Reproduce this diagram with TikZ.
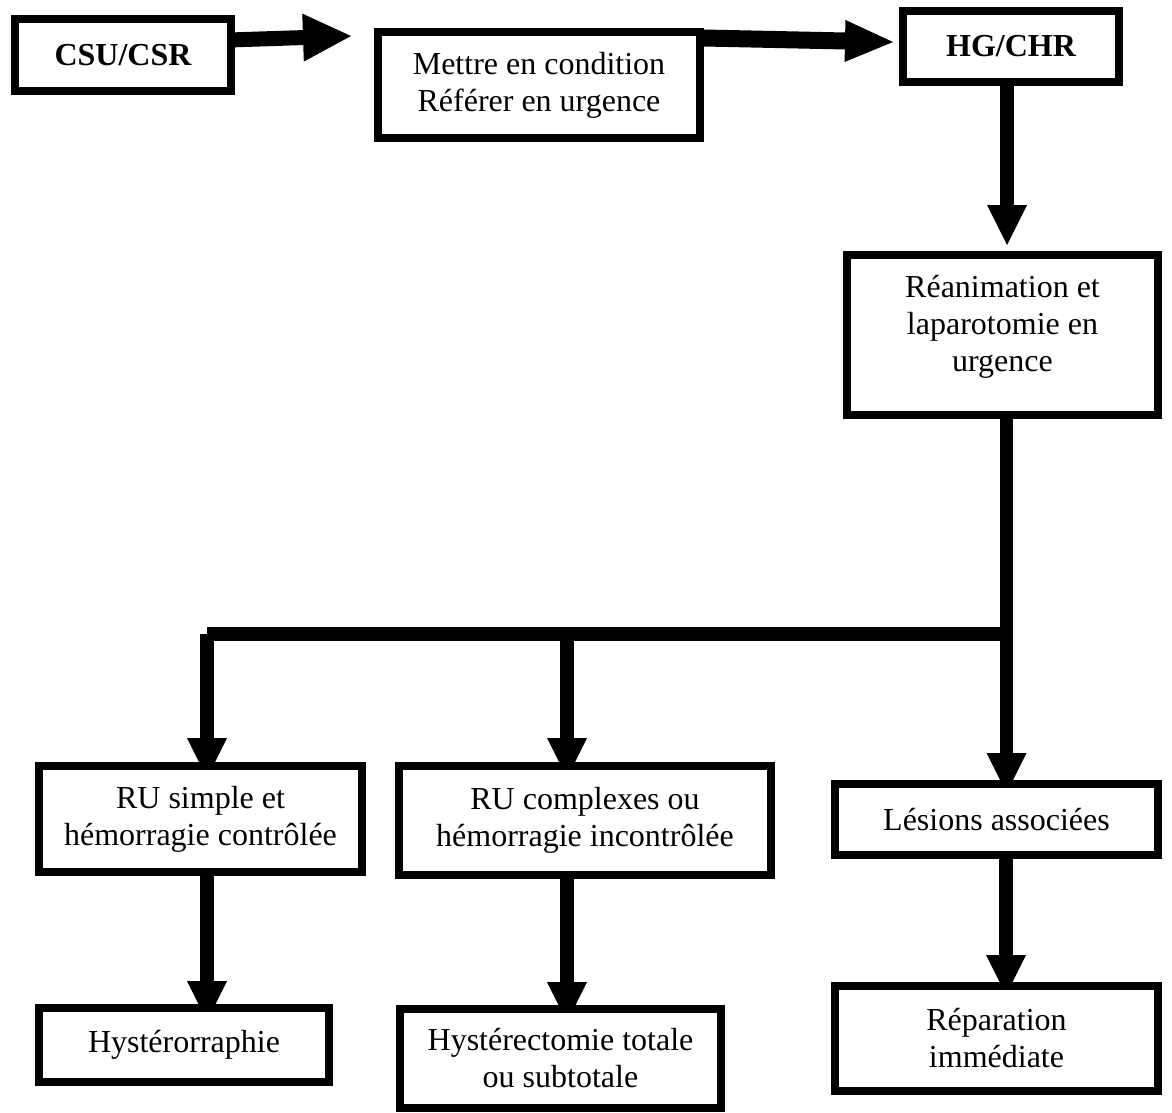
\documentclass[tikz,border=0pt]{standalone}
\usepackage{fontspec}
\setmainfont{Liberation Serif}
\usetikzlibrary{arrows.meta,calc}
\pgfdeclarelayer{bg}
\pgfdeclarelayer{connectors}
\pgfsetlayers{bg,connectors,main}

\begin{document}
\begin{tikzpicture}[x=1pt,y=-1pt,
  box/.style={draw=black, line width=8pt, fill=white, align=center,
    inner sep=0pt, font=\fontsize{32}{37}\selectfont},
  txt/.style={align=center, inner sep=0pt, font=\fontsize{32}{37}\selectfont},
  conn/.style={draw=black, line width=13.5pt},
  varr/.style={conn, -{Triangle[width=40pt,length=40pt,line width=0pt]}},
  harra/.style={draw=black, line width=15pt, -{Triangle[width=48pt,length=48pt,line width=0pt]}},
  harrb/.style={draw=black, line width=17pt, -{Triangle[width=42pt,length=48pt,line width=0pt]}}]

\begin{pgfonlayer}{bg}
  \fill[white] (0,0) rectangle (1172,1112);
\end{pgfonlayer}
\useasboundingbox (0,0) rectangle (1172,1112);

% boxes
\node[box, minimum width=216pt, minimum height=72pt]  (csu)    at (123,55)      {\bfseries CSU/CSR};
\node[box, minimum width=322pt, minimum height=106pt] (mettre) at (539,85)      {Mettre en condition\\Référer en urgence};
\node[box, minimum width=216pt, minimum height=71pt]  (hg)     at (1011,46.5)   {\bfseries HG/CHR};
\node[box, minimum width=311pt, minimum height=160pt] (rea)    at (1002.5,335)  {};
\node[txt] (reatxt) at (1002.5,327) {Réanimation et\\laparotomie en\\urgence};
\node[box, minimum width=323pt, minimum height=106pt] (rus)    at (200.5,819)   {RU simple et\\hémorragie contrôlée};
\node[box, minimum width=372pt, minimum height=109pt] (rucs)   at (585,820.5)   {RU complexes ou\\hémorragie incontrôlée};
\node[box, minimum width=323pt, minimum height=71pt]  (les)    at (996.5,819.5) {Lésions associées};
\node[box, minimum width=290pt, minimum height=74pt]  (hyr)    at (184,1045)    {Hystérorraphie};
\node[box, minimum width=321pt, minimum height=99pt]  (hye)    at (560.5,1058.5){Hystérectomie totale\\ou subtotale};
\node[box, minimum width=323pt, minimum height=105pt] (rep)    at (996.5,1038.5){Réparation\\immédiate};

% connectors, drawn beneath the boxes
\begin{pgfonlayer}{connectors}
  \draw[harra] ($(csu.north east)!0.31!(csu.south east)$) -- ($(mettre.north west)+(-23,8)$);
  \draw[harrb] ($(mettre.north east)+(0,10)$) -- ($(hg.north west)+(-6,35)$);
  \draw[varr] ($(hg.south)+(-4,-8)$) -- ($(rea.north)+(4.5,-6)$);
  \coordinate (split) at (1006.5,634);
  \coordinate (jl) at (207,634);
  \coordinate (jm) at (567,634);
  \draw[varr] ($(rea.south)+(4,-4)$) -- ($(les.north)+(10,13)$);
  \draw[conn] (jl) -- (split);
  \draw[varr] (jl) -- ($(rus.north)+(6.5,16)$);
  \draw[varr] (jm) -- ($(rucs.north)+(-18,16)$);
  \draw[varr] ($(rus.south)+(6.5,0)$) -- ($(hyr.north)+(23,17)$);
  \draw[varr] ($(rucs.south)+(-18,0)$) -- ($(hye.north)+(6.5,17)$);
  \draw[varr] ($(les.south)+(9.5,0)$) -- ($(rep.north)+(9.5,13)$);
\end{pgfonlayer}
\end{tikzpicture}
\end{document}
